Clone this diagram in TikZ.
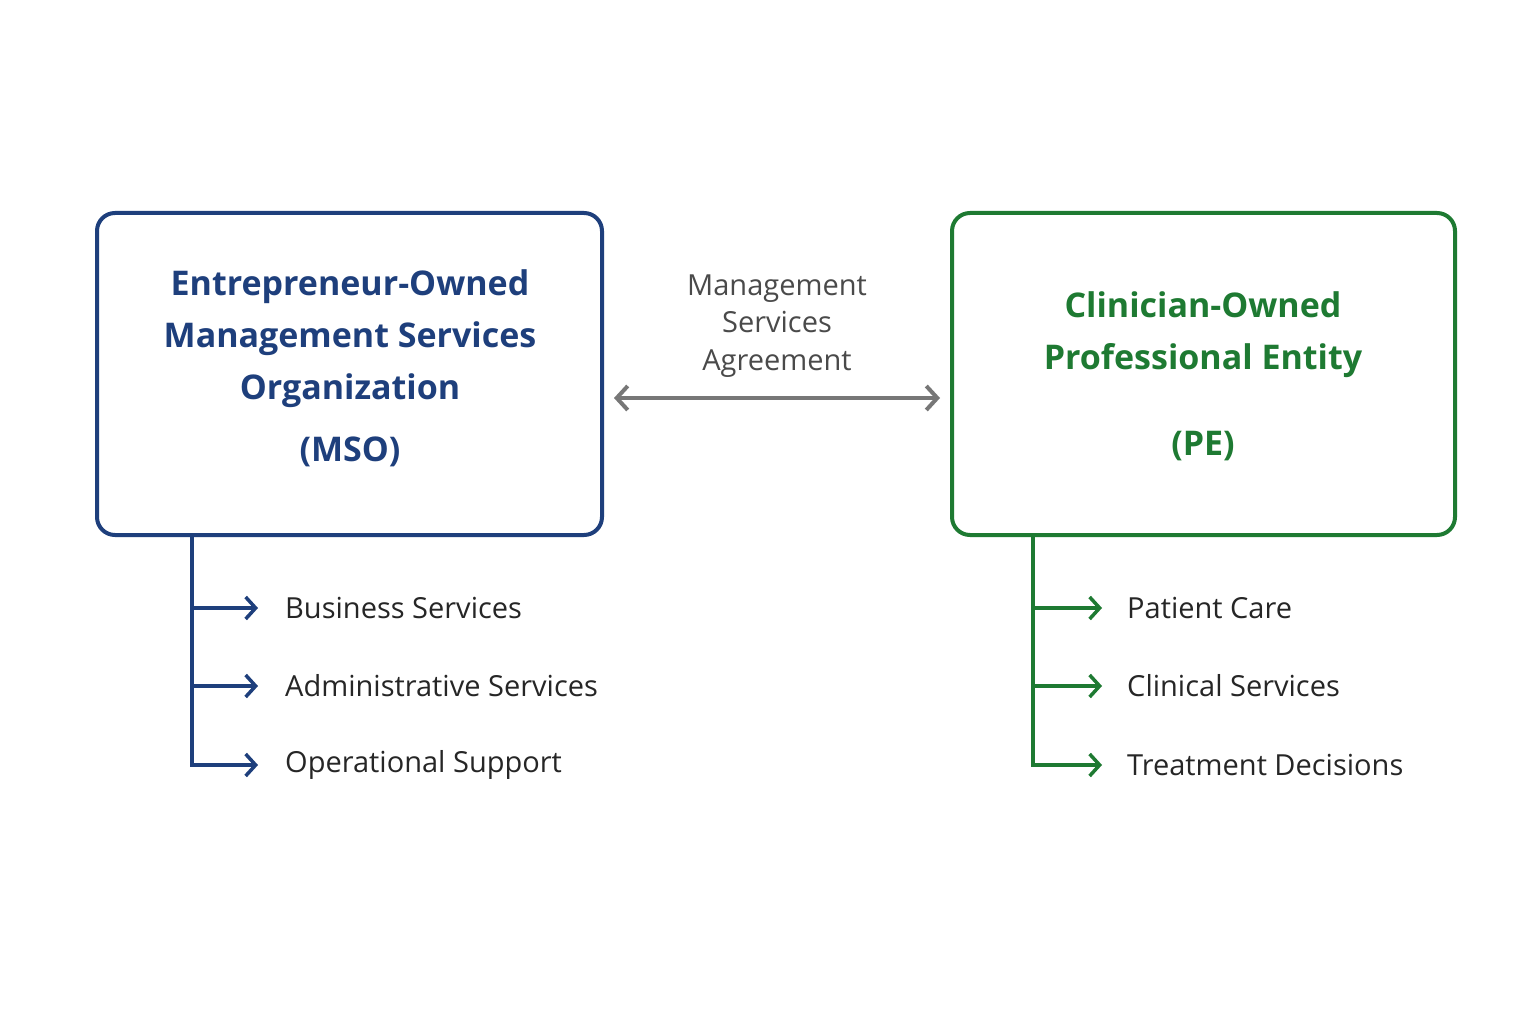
\documentclass[tikz,border=0pt]{standalone}
\usepackage{fontspec}
\setmainfont{Open Sans}
\usetikzlibrary{arrows.meta}
\definecolor{cblue}{HTML}{1E3F7C}
\definecolor{cgreen}{HTML}{1E7A32}
\definecolor{cgray}{HTML}{777777}
\definecolor{ctext}{HTML}{4A4A4A}
\begin{document}
\begin{tikzpicture}[x=1pt,y=-1pt,
  box/.style={draw,line width=4pt,rounded corners=18pt,inner sep=0pt},
  title/.style={font=\fontsize{34}{52}\selectfont\bfseries,align=center},
  item/.style={anchor=west,font=\fontsize{29}{34}\selectfont,text=black!85,inner sep=0pt},
  tip/.style={-{Straight Barb[length=10pt,width=22pt,line width=3.5pt]}},
  tree/.style={line width=3.5pt}]
\useasboundingbox[fill=white] (0,0) rectangle (1536,1024);
\node[box,draw=cblue,minimum width=505pt,minimum height=322pt] (mso) at (349.5,374) {};
\node[box,draw=cgreen,minimum width=503pt,minimum height=322pt] (pe) at (1203.5,374) {};
\node[title,text=cblue] (msot) at (350,339) {Entrepreneur-Owned\\Management Services\\Organization};
\node[title,text=cblue] (msoa) at (350,452) {(MSO)};
\node[title,text=cgreen] (pet) at (1203,335) {Clinician-Owned\\Professional Entity};
\node[title,text=cgreen] (pea) at (1203,446) {(PE)};
\node[align=center,font=\fontsize{29}{37.5}\selectfont,text=ctext] (msa) at (777,326) {Management\\Services\\Agreement};
\coordinate (al) at (614,398); \coordinate (ar) at (940,398);
\draw[cgray,line width=4pt,{Straight Barb[length=11pt,width=24pt,line width=4pt]}-{Straight Barb[length=11pt,width=24pt,line width=4pt]}] (al) -- (ar);
% left tree
\node[item] (b1) at (285,608) {Business Services};
\node[item] (b2) at (285,686) {Administrative Services};
\node[item] (b3) at (285,765) {Operational Support};
\coordinate (lt) at (192,535);
\draw[tree,cblue] (lt) -- (192,765);
\draw[tree,cblue,tip] (190.25,765) -- (258,765);
\draw[tree,cblue,tip] (192,608) -- (258,608);
\draw[tree,cblue,tip] (192,686) -- (258,686);
% right tree
\node[item] (c1) at (1127,608) {Patient Care};
\node[item] (c2) at (1127,686) {Clinical Services};
\node[item] (c3) at (1127,765) {Treatment Decisions};
\coordinate (rt) at (1033,535);
\draw[tree,cgreen] (rt) -- (1033,765);
\draw[tree,cgreen,tip] (1031.25,765) -- (1102,765);
\draw[tree,cgreen,tip] (1033,608) -- (1102,608);
\draw[tree,cgreen,tip] (1033,686) -- (1102,686);
\end{tikzpicture}
\end{document}
